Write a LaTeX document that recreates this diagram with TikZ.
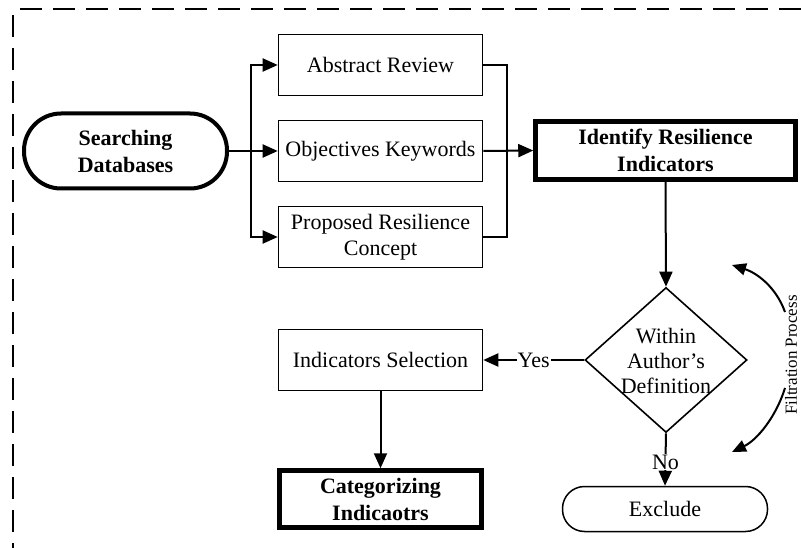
\documentclass[tikz,border=0pt]{standalone}
\usepackage{fontspec}
\setmainfont{Liberation Serif}
\usetikzlibrary{arrows.meta,shapes.geometric}
\begin{document}
\begin{tikzpicture}[x=1pt,y=-1pt,
  txt/.style={font=\fontsize{22}{26}\selectfont, align=center},
  box/.style={draw, txt, line width=1.6pt, minimum width=204pt, minimum height=61pt, inner sep=2pt},
  thickbox/.style={box, line width=4.5pt, font=\fontsize{22}{27}\selectfont\bfseries},
  conn/.style={line width=2pt},
  arr/.style={conn, -{Triangle[length=15pt,width=13pt]}},
  carr/.style={line width=2pt, -{Triangle[length=14pt,width=12pt]}},
  border/.style={line width=1.8pt, dash pattern=on 22pt off 11pt},
  lbl/.style={txt, fill=white, inner sep=1pt}
]
\useasboundingbox (0,0) rectangle (801,548);
% dashed frame
\draw[border] (20,9) -- (801,9);
\draw[border] (13,15) -- (13,548);

% nodes
\node[draw, txt, font=\fontsize{22}{27}\selectfont\bfseries, line width=4pt, rounded corners=37pt,
      minimum width=203pt, minimum height=75pt] (search) at (125.5,151) {Searching\\Databases};
\node[box] (abs)  at (380.5,65)  {Abstract Review};
\node[box] (obj)  at (380.5,151) {Objectives Keywords};
\node[box] (prop) at (380.5,237) {Proposed Resilience\\Concept};
\node[thickbox, minimum width=260pt, minimum height=58pt] (ident) at (665.5,150.5) {Identify Resilience\\Indicators};
\node[draw, diamond, line width=1.6pt, minimum width=162pt, minimum height=145pt, inner sep=0pt] (dec) at (666,360) {};
\node[txt, font=\fontsize{22}{25}\selectfont] (dectext) at (666,361) {Within\\Author’s\\Definition};
\node[box] (sel)  at (380.5,360) {Indicators Selection};
\node[thickbox, minimum width=202pt, minimum height=57pt] (cat) at (380.5,499) {Categorizing\\Indicaotrs};
\node[draw, txt, line width=1.5pt, rounded corners=22pt, minimum width=205pt, minimum height=45pt] (excl) at (665,509) {Exclude};
\node[rotate=90, font=\fontsize{17}{20}\selectfont, inner sep=0pt] (filt) at (791,355) {Filtration Process};

% connectors
\coordinate (jL) at (251,151);
\coordinate (jR) at (507,151);
\draw[arr] (search.east) -- (obj.west);
\draw[arr] (jL) |- (abs.west);
\draw[arr] (jL) |- (prop.west);
\draw[conn] (abs.east) -| (jR);
\draw[conn] (prop.east) -| (jR);
\draw[arr] (obj.east) -- (ident.west);
\draw[arr] (ident.south) -- (dec.north);
\draw[arr] (dec.west) -- node[lbl] {Yes} (sel.east);
\draw[arr] (dec.south) -- node[lbl, pos=0.55] {No} (excl.north);
\draw[arr] (sel.south) -- (cat.north);

% filtration arcs
\coordinate (fa1) at (785,312);
\coordinate (fa2) at (732,265);
\coordinate (fb1) at (785,388);
\coordinate (fb2) at (732,452);
\draw[carr] (fa1) .. controls (776,287) and (757,273) .. (fa2);
\draw[carr] (fb1) .. controls (776,417) and (757,440) .. (fb2);
\end{tikzpicture}
\end{document}
